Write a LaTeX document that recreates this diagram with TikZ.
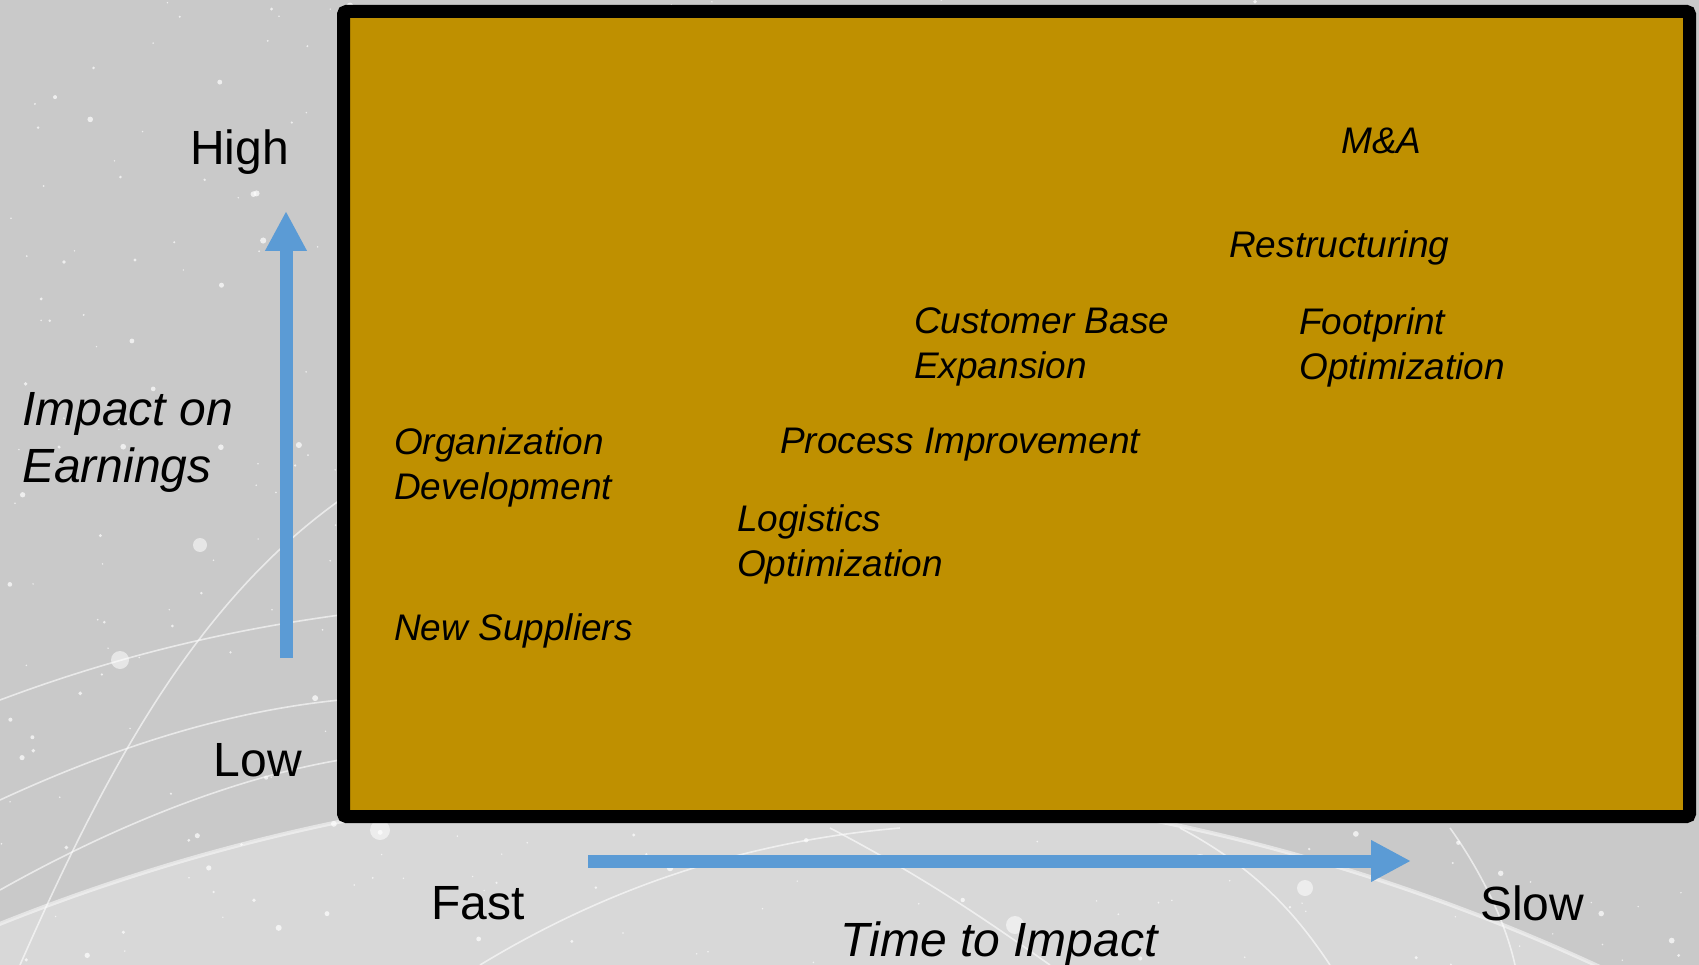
\documentclass[tikz,border=0pt]{standalone}
\usepackage{fontspec}
\setmainfont{Liberation Sans}
\usetikzlibrary{arrows.meta}
\definecolor{gold}{RGB}{191,144,0}
\definecolor{axisblue}{RGB}{91,155,213}
\definecolor{bggray}{RGB}{201,201,201}

\begin{document}
\begin{tikzpicture}[x=1pt, y=-1pt,
    item/.style={anchor=west, inner sep=0pt, align=left, font=\fontsize{37}{45}\selectfont\itshape},
    axislabel/.style={inner sep=0pt, align=left, font=\fontsize{48}{57}\selectfont},
    axisarrow/.style={line width=13pt, axisblue, -{Triangle[length=40pt,width=39pt]}},
    glow/.style={white, opacity=0.6, line width=1.6pt},
    star/.style={white, opacity=0.7}
]
\useasboundingbox (0,0) rectangle (1699,965);

% backdrop: grey sky, globe and network lines
\fill[bggray] (0,0) rectangle (1699,965);
\begin{scope}
\clip (0,0) rectangle (1699,965);
\fill[white, opacity=0.28] (750,2800) circle (2020);
\draw[white, opacity=0.5, line width=4pt] (750,2800) circle (2020);
\pgfmathsetseed{11}
\foreach \i in {1,...,600} {
  \pgfmathsetmacro\sx{rnd*1699}
  \pgfmathsetmacro\sy{rnd*965}
  \pgfmathsetmacro\sr{0.8+2.4*rnd^3}
  \fill[star] (\sx,\sy) circle (\sr);
}
\draw[glow] (0,700) .. controls (120,655) and (230,630) .. (340,615);
\draw[glow] (20,965) .. controls (110,760) and (200,600) .. (340,500);
\draw[glow] (0,800) .. controls (130,740) and (240,710) .. (340,700);
\draw[glow] (0,890) .. controls (160,800) and (280,770) .. (340,760);
\draw[glow] (480,965) .. controls (620,880) and (760,840) .. (900,828);
\draw[glow] (830,828) .. controls (930,880) and (1000,930) .. (1050,965);
\draw[glow] (1180,828) .. controls (1260,870) and (1300,920) .. (1330,965);
\draw[glow] (1450,828) .. controls (1480,870) and (1505,920) .. (1515,965);
\foreach \gx/\gy/\gr in {120/660/9, 200/545/7, 380/830/10, 1015/925/9, 1305/888/8, 1200/860/6}
  \fill[white, opacity=0.55] (\gx,\gy) circle (\gr);
\end{scope}

% chart area
\node[draw, line width=13pt, fill=gold, rounded corners=3pt, minimum width=1346pt, minimum height=805pt] (grid) at (1016.5,414) {};

\node[item] (mna) at (1341,141) {M\&A};
\node[item] (restruct) at (1229,248) {Restructuring};
\node[item] (custbase) at (914,347) {Customer Base\\Expansion};
\node[item] (footprint) at (1299,347) {Footprint\\Optimization};
\node[item] (orgdev) at (394,467) {Organization\\Development};
\node[item] (process) at (780,445) {Process Improvement};
\node[item] (logistics) at (737,544) {Logistics\\Optimization};
\node[item] (suppliers) at (394,631) {New Suppliers};

% axes
\node[axislabel, anchor=east] (high) at (289,152) {High};
\node[axislabel, anchor=east] (low) at (302,760) {Low};
\node[axislabel, anchor=west, font=\fontsize{48}{57}\selectfont\itshape] (impact) at (22,442) {Impact on\\Earnings};
\node[axislabel] (fast) at (478,903) {Fast};
\node[axislabel] (slow) at (1532,903) {Slow};
\node[axislabel, font=\fontsize{48}{57}\selectfont\itshape] (time) at (999,944) {Time to Impact};

\coordinate (vbot) at (286,658);
\coordinate (vtop) at (286,211);
\coordinate (hleft) at (588,861);
\coordinate (hright) at (1411,861);
\draw[axisarrow] (vbot) -- (vtop);
\draw[axisarrow] (hleft) -- (hright);
\end{tikzpicture}
\end{document}
